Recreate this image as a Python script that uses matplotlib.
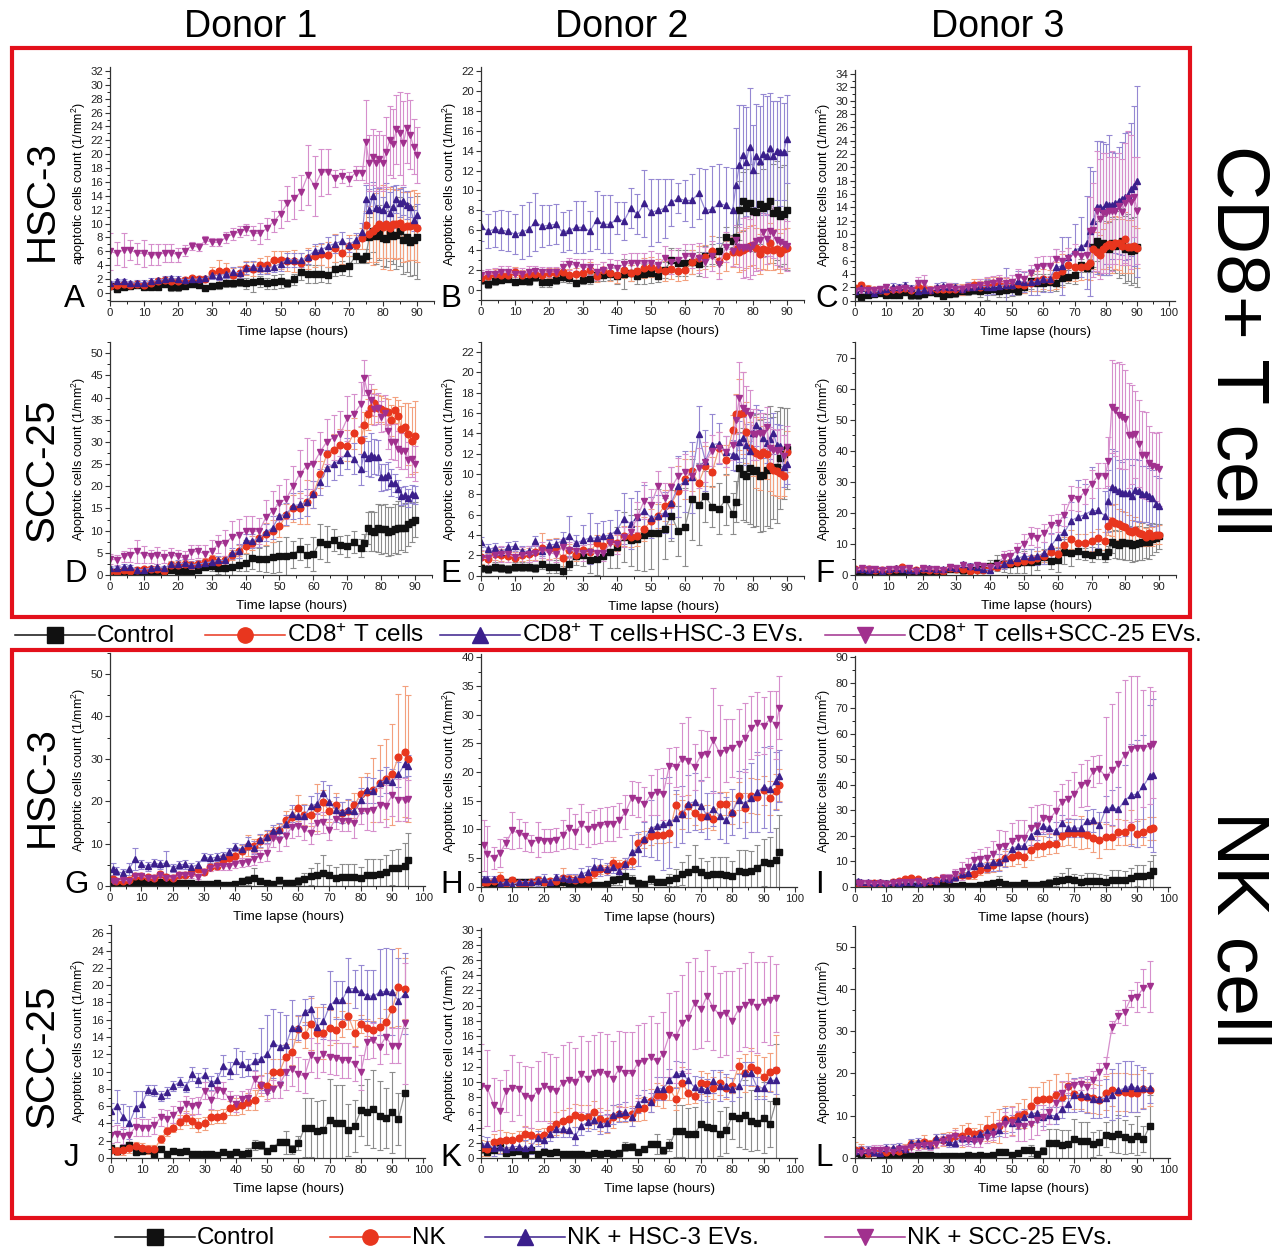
import numpy as np
import matplotlib
matplotlib.use('Agg')
import matplotlib.pyplot as plt
from matplotlib.ticker import MultipleLocator
from matplotlib.patches import Rectangle

plt.rcParams['font.family'] = ['Liberation Sans', 'DejaVu Sans']
plt.rcParams['mathtext.fontset'] = 'custom'
plt.rcParams['mathtext.rm'] = 'Liberation Sans'
plt.rcParams['mathtext.it'] = 'Liberation Sans:italic'

# ---- time points (hours) ----
T_CD8 = [0, 2, 4, 6, 8, 10, 12, 14, 16, 18,
         20, 22, 24, 26, 28, 30, 32, 34, 36, 38,
         40, 42, 44, 46, 48, 50, 52, 54, 56, 58,
         60, 62, 64, 66, 68, 70, 72, 74,
         75, 76, 77, 78, 79, 80, 81, 82, 83, 84, 85, 86, 87, 88, 89, 90]
T_NK_HSC = [1, 2, 4, 6, 8, 10, 12, 14, 16, 18,
            20, 22, 24, 26, 28, 30, 32, 34, 36, 38,
            40, 42, 44, 46, 48, 50, 52, 54, 56, 58,
            60, 62, 64, 66, 68, 70, 72, 74, 76, 78,
            80, 82, 84, 86, 88, 90, 92, 94, 95]
T_NK_SCC = [0, 2, 4, 6, 8, 10, 12, 14, 16, 18,
            20, 22, 24, 26, 28, 30, 32, 34, 36, 38,
            40, 42, 44, 46, 48, 50, 52, 54, 56, 58,
            60, 62, 64, 66, 68, 70, 72, 74, 76, 78,
            80, 82, 84, 86, 88, 90, 92, 94]

# ---- controls (tumour cells alone, shared by donors) ----
CTRL_HSC3_CD8 = [1.0, 0.6, 0.9, 1.0, 1.1, 0.8, 0.9, 0.9, 1.3, 0.8,
                 0.8, 1.0, 1.3, 1.2, 0.7, 1.0, 1.1, 1.5, 1.5, 1.6,
                 1.4, 1.6, 1.7, 1.4, 1.6, 1.7, 1.4, 2.0, 3.0, 2.7,
                 2.7, 2.8, 2.6, 3.4, 3.6, 3.9, 5.3, 4.9,
                 5.3, 8.0, 8.9, 8.2, 8.7, 7.9, 7.8, 8.6, 8.2, 8.4, 8.9, 7.7, 8.0, 7.4, 7.6, 8.0]
CTRL_HSC3_CD8_ERR = [0.4, 0.4, 0.4, 0.3, 0.3, 0.3, 0.3, 0.4, 0.4, 0.5,
                     0.5, 0.4, 0.5, 0.5, 0.3, 0.4, 0.5, 0.6, 0.6, 0.6,
                     0.8, 1.5, 0.8, 0.8, 1.0, 1.0, 0.6, 0.8, 1.2, 1.3,
                     1.3, 1.2, 1.2, 1.0, 1.0, 1.4, 1.0, 0.6,
                     1.0, 3.0, 3.0, 4.0, 4.0, 4.0, 4.0, 4.0, 4.0, 5.0, 5.0, 5.0, 5.0, 5.0, 5.0, 6.0]
CTRL_SCC25_CD8 = [0.8, 0.7, 0.9, 0.8, 0.7, 0.9, 0.9, 0.9, 0.8, 1.2,
                  0.9, 0.9, 0.5, 1.2, 1.9, 2.0, 1.5, 1.6, 1.9, 2.3,
                  2.8, 3.8, 3.5, 3.6, 4.0, 4.2, 4.2, 4.6, 5.9, 4.4,
                  4.8, 7.5, 7.0, 7.8, 6.8, 6.6, 7.5, 6.1,
                  7.3, 10.6, 10.0, 9.8, 10.6, 10.3, 10.4, 9.8, 9.9, 10.4, 10.7, 10.6, 10.7, 11.6, 12.0, 12.5]
CTRL_SCC25_CD8_ERR = [0.4, 0.4, 0.4, 0.4, 0.4, 0.4, 0.4, 0.4, 0.4, 0.5,
                      0.6, 0.6, 0.5, 0.6, 0.8, 1.0, 1.2, 1.5, 2.0, 1.5,
                      2.0, 2.5, 2.5, 3.0, 3.5, 3.5, 4.3, 3.0, 2.5, 2.5,
                      3.8, 4.0, 4.0, 2.5, 2.0, 2.5, 2.5, 2.0,
                      2.0, 3.5, 4.5, 4.5, 5.5, 5.5, 5.5, 5.5, 5.5, 5.5, 6.0, 5.0, 5.5, 5.0, 4.5, 4.0]
CTRL_HSC3_NK = [0.8, 0.5, 0.6, 0.8, 0.9, 1.0, 0.8, 0.8, 0.9, 1.0,
                0.9, 0.6, 0.6, 0.8, 0.5, 0.5, 0.4, 0.6, 0.3, 0.3,
                0.5, 1.1, 1.3, 1.9, 1.2, 0.7, 0.5, 1.3, 0.8, 0.8,
                1.2, 1.6, 2.3, 2.5, 3.1, 2.5, 2.0, 2.2, 2.2, 2.1,
                1.9, 2.7, 2.6, 2.8, 3.3, 4.3, 4.2, 4.7, 6.1]
CTRL_HSC3_NK_ERR = [0.3, 0.3, 0.3, 0.3, 0.3, 0.3, 0.3, 0.3, 0.3, 0.3,
                    0.3, 0.3, 0.3, 0.3, 0.3, 0.3, 0.3, 0.3, 0.3, 0.3,
                    0.4, 0.8, 1.0, 2.3, 0.8, 0.5, 0.5, 0.8, 0.5, 0.5,
                    1.0, 1.5, 2.0, 3.0, 4.2, 2.5, 2.5, 3.0, 3.0, 3.0,
                    2.5, 3.7, 3.8, 3.5, 4.0, 4.1, 4.5, 5.5, 6.4]
CTRL_SCC25_NK = [1.2, 0.8, 1.1, 1.5, 0.7, 0.8, 0.9, 0.5, 1.0, 0.5,
                 0.8, 0.7, 0.8, 0.5, 0.5, 0.5, 0.5, 0.4, 0.7, 0.5,
                 0.7, 0.5, 0.6, 1.5, 1.5, 0.8, 1.2, 1.9, 1.8, 1.0,
                 1.7, 3.5, 3.5, 3.1, 3.2, 4.4, 4.1, 4.0, 3.2, 3.7,
                 5.5, 5.3, 5.7, 4.9, 4.6, 5.3, 4.5, 7.5]
CTRL_SCC25_NK_ERR = [0.5, 0.3, 0.3, 0.4, 0.3, 0.3, 0.3, 0.2, 0.2, 0.2,
                     0.2, 0.2, 0.2, 0.2, 0.2, 0.2, 0.2, 0.2, 0.2, 0.2,
                     0.2, 0.2, 0.5, 0.6, 0.5, 0.3, 0.3, 0.3, 1.3, 0.5,
                     0.8, 3.4, 3.4, 3.5, 3.5, 4.8, 4.4, 4.5, 3.0, 3.0,
                     3.0, 3.8, 4.5, 4.0, 3.5, 4.7, 3.0, 7.5]

# ---- A: donor 1, HSC-3, CD8+ T cells ----
A_CD8 = [1.0, 1.1, 1.3, 1.2, 1.3, 1.2, 1.5, 1.7, 1.8, 1.7,
         1.7, 1.9, 2.1, 2.0, 2.0, 2.9, 3.2, 3.1, 2.6, 2.9,
         3.6, 3.4, 4.0, 4.1, 4.8, 4.7, 4.6, 4.6, 4.3, 5.0,
         5.3, 5.6, 5.5, 6.5, 5.7, 6.8, 6.9, 7.9,
         9.8, 8.5, 9.0, 9.4, 10.0, 9.5, 10.0, 9.3, 10.0, 9.9, 10.1, 9.5, 9.6, 9.7, 9.8, 9.4]
A_CD8_ERR = [0.3, 0.3, 0.3, 0.3, 0.3, 0.3, 0.4, 0.4, 0.4, 0.4,
             0.4, 0.4, 0.4, 0.4, 0.4, 0.8, 1.6, 1.2, 1.0, 1.0,
             1.0, 1.0, 1.0, 1.2, 1.2, 1.3, 1.5, 1.6, 1.4, 1.5,
             1.5, 1.5, 1.8, 2.0, 1.5, 1.5, 1.5, 1.5,
             2.0, 4.0, 5.0, 5.0, 5.0, 6.0, 5.0, 6.0, 5.0, 5.0, 5.0, 5.0, 5.0, 5.0, 5.0, 5.0]
A_HSC = [1.4, 1.7, 1.7, 1.4, 1.5, 1.5, 1.7, 1.8, 2.0, 2.1,
         2.0, 1.9, 2.0, 2.0, 2.1, 2.6, 2.5, 2.7, 3.0, 2.9,
         3.6, 3.8, 3.6, 3.6, 3.8, 4.2, 4.8, 4.8, 4.7, 5.2,
         6.1, 6.2, 6.8, 7.1, 7.5, 6.9, 7.6, 8.8,
         13.5, 12.0, 14.0, 12.2, 12.1, 11.9, 12.8, 11.5, 12.4, 13.5, 13.0, 13.3, 12.7, 12.4, 10.5, 11.3]
A_HSC_ERR = [0.3, 0.3, 0.3, 0.3, 0.3, 0.3, 0.4, 0.4, 0.4, 0.4,
             0.4, 0.4, 0.4, 0.4, 0.4, 0.6, 0.6, 0.6, 0.8, 0.8,
             0.8, 0.8, 0.8, 0.8, 0.8, 1.0, 1.0, 1.0, 1.0, 1.0,
             1.0, 1.0, 1.2, 1.3, 1.3, 1.0, 1.0, 1.3,
             2.0, 3.0, 2.0, 3.0, 3.0, 2.0, 3.0, 3.0, 3.0, 2.0, 2.0, 2.0, 2.0, 1.5, 1.5, 1.5]
A_SCC = [6.0, 5.7, 6.2, 6.2, 5.7, 5.7, 5.5, 5.5, 5.8, 5.8,
         5.5, 6.1, 6.8, 6.6, 7.6, 7.3, 7.3, 8.0, 8.5, 8.8,
         9.2, 8.6, 8.6, 9.3, 10.3, 11.4, 12.9, 13.7, 14.5, 17.0,
         15.4, 17.4, 17.5, 16.5, 16.9, 16.4, 17.3, 17.3,
         21.8, 18.7, 19.6, 18.7, 19.3, 18.7, 20.3, 22.0, 21.5, 23.6, 23.0, 21.6, 23.8, 22.8, 21.1, 19.9]
A_SCC_ERR = [2.7, 1.7, 2.5, 1.5, 1.5, 2.0, 1.5, 1.5, 1.3, 1.3,
             1.0, 0.8, 0.6, 0.6, 0.6, 0.6, 0.6, 0.8, 0.8, 0.8,
             0.8, 1.0, 1.5, 1.5, 1.5, 2.0, 2.5, 3.0, 2.5, 4.3,
             4.3, 3.4, 3.3, 1.2, 1.0, 1.0, 1.0, 1.0,
             6.0, 4.0, 4.0, 4.0, 4.0, 4.0, 5.0, 5.0, 5.0, 5.0, 6.0, 6.0, 5.0, 5.0, 4.0, 4.0]

# ---- B: donor 2, HSC-3, CD8+ T cells ----
B_CD8 = [1.2, 1.4, 1.6, 1.5, 1.5, 1.8, 1.5, 1.6, 1.6, 1.5,
         1.7, 1.7, 1.8, 1.5, 1.6, 1.7, 2.0, 1.4, 2.0, 1.7,
         1.5, 2.0, 1.7, 1.9, 2.2, 2.3, 2.1, 1.9, 2.1, 1.9,
         2.0, 2.8, 3.2, 3.3, 3.9, 2.9, 3.4, 3.8,
         4.1, 3.8, 4.0, 4.2, 4.4, 4.5, 4.2, 3.6, 4.1, 4.0, 4.7, 4.0, 4.1, 3.7, 4.1, 4.2]
B_CD8_ERR = [0.5, 0.5, 0.5, 0.5, 0.5, 0.5, 0.5, 0.5, 0.5, 0.5,
             0.5, 0.5, 0.6, 0.6, 0.6, 0.6, 0.8, 0.6, 0.8, 0.8,
             0.8, 0.8, 0.8, 0.8, 1.0, 1.0, 1.0, 1.0, 1.0, 1.0,
             1.0, 1.2, 1.2, 1.2, 1.5, 1.2, 1.5, 1.5,
             1.5, 2.0, 2.0, 2.0, 2.0, 2.0, 2.0, 2.0, 2.0, 2.0, 2.0, 2.0, 2.0, 2.0, 2.0, 2.0]
B_HSC = [6.4, 5.9, 6.1, 6.0, 5.9, 5.6, 5.8, 6.1, 6.8, 6.4,
         6.5, 6.6, 5.8, 6.0, 6.3, 6.3, 5.9, 7.0, 6.6, 6.6,
         7.2, 6.9, 8.2, 7.6, 8.7, 7.8, 8.0, 8.2, 8.8, 9.2,
         9.0, 9.0, 9.7, 8.0, 8.1, 8.7, 8.5, 8.0,
         10.5, 12.6, 13.6, 12.9, 14.4, 12.1, 13.5, 13.0, 13.7, 13.5, 14.3, 13.5, 14.0, 13.9, 13.9, 15.2]
B_HSC_ERR = [1.5, 1.7, 1.8, 2.0, 2.0, 2.0, 2.7, 2.7, 2.9, 2.1,
             2.0, 2.0, 2.0, 2.0, 2.6, 2.6, 2.0, 2.9, 2.9, 2.9,
             1.6, 1.9, 2.0, 2.0, 3.4, 3.4, 3.2, 3.0, 2.4, 1.5,
             2.1, 2.7, 2.6, 4.2, 4.4, 4.0, 3.9, 4.3,
             5.8, 6.0, 5.0, 5.5, 5.9, 4.5, 5.2, 5.5, 6.0, 6.0, 5.5, 5.5, 5.0, 5.5, 4.9, 4.4]
B_SCC = [1.5, 1.6, 1.6, 1.8, 1.8, 1.6, 1.6, 1.8, 1.9, 1.8,
         1.8, 1.8, 2.3, 2.6, 2.5, 2.3, 2.3, 1.8, 2.0, 2.3,
         2.2, 2.6, 2.7, 2.7, 2.7, 2.7, 2.5, 3.2, 2.8, 3.0,
         3.4, 3.4, 3.2, 2.8, 3.4, 2.6, 4.3, 3.9,
         5.0, 4.3, 4.2, 4.3, 4.1, 4.5, 4.9, 5.0, 5.8, 5.1, 5.9, 5.7, 5.0, 4.8, 4.6, 4.4]
B_SCC_ERR = [0.5, 0.5, 0.6, 0.6, 0.6, 0.6, 0.6, 0.6, 0.5, 0.5,
             0.5, 0.5, 0.6, 0.6, 0.6, 0.8, 0.8, 0.8, 0.8, 0.8,
             0.8, 1.0, 1.0, 1.0, 1.0, 1.2, 1.2, 1.2, 1.2, 1.2,
             1.2, 1.2, 1.5, 1.5, 1.5, 1.5, 1.5, 1.5,
             1.5, 2.0, 3.0, 3.0, 3.0, 3.0, 3.0, 3.0, 2.5, 2.5, 2.5, 2.5, 2.5, 2.5, 2.5, 2.5]

# ---- C: donor 3, HSC-3, CD8+ T cells ----
C_CD8 = [1.9, 2.3, 1.8, 1.6, 1.6, 1.5, 1.7, 1.8, 1.9, 1.6,
         2.0, 1.7, 1.6, 1.7, 1.8, 1.8, 1.7, 1.7, 2.0, 2.4,
         2.0, 2.4, 2.6, 2.6, 2.4, 2.3, 2.5, 2.4, 2.6, 3.0,
         3.2, 3.1, 3.8, 4.5, 5.4, 5.0, 5.1, 5.2,
         5.6, 7.7, 7.3, 6.9, 7.8, 8.2, 8.5, 8.2, 8.7, 8.6, 8.2, 9.3, 8.1, 8.1, 8.2, 7.9]
C_CD8_ERR = [0.5, 0.5, 0.5, 0.5, 0.5, 0.5, 0.5, 0.5, 0.5, 0.5,
             0.6, 0.6, 0.6, 0.6, 0.6, 0.8, 0.8, 0.8, 0.8, 0.8,
             1.0, 1.0, 1.0, 1.0, 1.0, 1.0, 1.2, 1.2, 1.2, 1.5,
             1.5, 1.5, 2.0, 2.5, 2.5, 2.0, 2.0, 2.0,
             2.5, 3.0, 3.0, 3.0, 3.0, 3.5, 3.5, 4.0, 4.0, 4.0, 4.0, 4.0, 4.0, 4.0, 3.0, 3.0]
C_HSC = [1.5, 1.9, 1.6, 1.2, 1.6, 1.7, 2.1, 2.0, 2.3, 1.9,
         1.5, 1.6, 1.6, 2.0, 2.2, 2.0, 2.0, 1.8, 2.0, 2.0,
         2.2, 2.1, 2.0, 2.2, 2.4, 2.4, 2.9, 2.8, 2.8, 2.9,
         3.3, 3.3, 5.0, 5.2, 6.6, 7.5, 8.0, 8.7,
         10.4, 12.0, 14.0, 14.0, 13.8, 14.5, 14.3, 14.3, 14.6, 15.0, 15.3, 15.6, 15.8, 16.7, 17.2, 17.9]
C_HSC_ERR = [0.5, 0.5, 0.5, 0.5, 0.5, 0.7, 0.5, 0.5, 0.5, 0.5,
             0.5, 0.5, 0.5, 0.6, 0.6, 0.6, 0.6, 0.6, 0.8, 0.8,
             1.0, 1.2, 1.0, 1.2, 2.5, 1.5, 1.5, 1.5, 2.0, 2.0,
             2.0, 2.0, 2.8, 4.3, 3.0, 4.0, 4.5, 7.0,
             9.7, 7.5, 10.0, 10.0, 10.0, 9.0, 10.5, 8.0, 7.5, 8.0, 8.5, 9.5, 9.5, 10.0, 12.0, 14.3]
C_SCC = [1.4, 1.6, 1.6, 1.6, 1.7, 2.0, 1.6, 1.8, 1.9, 1.6,
         2.7, 2.7, 1.6, 1.8, 1.9, 2.0, 1.7, 1.8, 2.1, 2.0,
         2.4, 2.5, 2.7, 2.9, 2.6, 2.8, 3.6, 3.2, 4.2, 5.0,
         5.2, 5.2, 6.2, 5.9, 6.4, 7.0, 6.7, 6.8,
         10.5, 10.6, 13.5, 12.3, 13.1, 13.1, 13.5, 13.5, 13.5, 14.2, 13.3, 14.6, 15.4, 14.8, 15.5, 13.5]
C_SCC_ERR = [0.5, 0.5, 0.5, 0.5, 0.5, 0.5, 0.5, 0.5, 0.5, 0.5,
             0.8, 1.1, 0.5, 0.5, 0.5, 0.6, 0.6, 0.6, 0.6, 0.6,
             0.8, 1.0, 1.0, 1.0, 1.0, 1.0, 1.2, 1.2, 1.2, 1.5,
             1.5, 1.5, 1.5, 1.5, 1.5, 1.5, 1.5, 1.5,
             5.0, 7.0, 9.0, 9.0, 9.0, 9.0, 8.0, 9.0, 8.0, 8.0, 8.0, 9.0, 10.0, 10.0, 6.0, 8.0]

# ---- D: donor 1, SCC-25, CD8+ T cells ----
D_CD8 = [0.8, 0.6, 1.1, 1.0, 1.2, 1.3, 1.4, 1.3, 1.0, 2.3,
         2.3, 2.5, 2.2, 2.5, 3.0, 3.5, 3.0, 3.3, 4.5, 5.5,
         6.5, 7.2, 8.4, 9.3, 9.9, 11.0, 13.5, 15.0, 15.1, 16.5,
         18.2, 22.7, 27.3, 28.3, 29.4, 29.2, 32.0, 30.4,
         33.8, 36.2, 37.6, 38.9, 37.6, 37.4, 37.0, 36.8, 34.9, 37.2, 35.9, 33.0, 33.4, 31.8, 30.3, 31.3]
D_CD8_ERR = [0.5, 0.5, 0.5, 0.5, 0.6, 0.6, 0.6, 0.6, 0.6, 0.8,
             0.8, 0.8, 0.8, 0.8, 0.8, 1.0, 1.0, 1.0, 1.2, 1.2,
             1.5, 1.5, 2.0, 2.5, 2.5, 2.5, 2.5, 3.0, 3.5, 5.0,
             3.0, 3.0, 3.0, 3.5, 3.5, 3.5, 3.5, 3.0,
             3.0, 3.5, 3.5, 3.0, 3.0, 3.0, 3.0, 3.0, 3.5, 3.0, 3.5, 5.0, 5.5, 7.0, 7.5, 8.0]
D_HSC = [1.5, 1.5, 1.9, 1.8, 1.2, 1.2, 1.6, 1.8, 1.5, 2.4,
         2.5, 2.7, 2.3, 2.5, 2.7, 3.0, 3.3, 3.3, 4.9, 5.4,
         7.8, 7.7, 8.3, 9.6, 10.7, 13.4, 13.7, 15.6, 15.9, 16.4,
         18.2, 21.0, 24.1, 25.0, 26.0, 27.5, 26.2, 23.9,
         27.4, 26.3, 27.0, 26.7, 26.5, 22.0, 22.1, 22.5, 20.8, 20.7, 19.5, 17.8, 18.1, 17.3, 18.2, 18.0]
D_HSC_ERR = [0.5, 0.5, 0.5, 0.5, 0.5, 0.5, 0.5, 0.6, 0.6, 0.6,
             0.8, 0.8, 0.8, 0.8, 0.8, 1.0, 1.0, 1.0, 1.2, 1.5,
             1.5, 1.5, 2.0, 2.0, 2.5, 2.5, 2.5, 3.0, 3.0, 3.0,
             3.0, 3.0, 4.0, 3.5, 3.5, 3.5, 3.5, 3.5,
             4.0, 4.0, 5.0, 4.0, 4.0, 3.0, 3.0, 3.0, 3.0, 2.0, 2.0, 2.0, 2.0, 2.0, 2.0, 2.0]
D_SCC = [3.6, 3.4, 4.2, 4.5, 5.3, 4.6, 4.2, 4.4, 4.1, 4.5,
         4.2, 3.8, 5.2, 5.3, 4.8, 5.4, 7.0, 7.2, 8.6, 9.1,
         9.9, 9.9, 9.9, 13.0, 14.5, 16.3, 17.2, 20.0, 22.8, 24.5,
         25.0, 27.8, 30.1, 31.0, 31.9, 35.3, 36.4, 38.5,
         44.5, 41.1, 39.5, 37.4, 37.6, 35.7, 36.5, 32.5, 30.1, 30.0, 28.4, 28.0, 28.0, 26.0, 26.1, 25.1]
D_SCC_ERR = [1.2, 1.2, 1.2, 1.5, 2.5, 2.0, 1.5, 2.0, 1.5, 1.5,
             1.5, 1.5, 1.5, 1.5, 2.0, 2.5, 2.0, 3.0, 3.5, 3.5,
             3.5, 3.5, 3.0, 4.0, 4.5, 4.0, 4.5, 4.5, 5.5, 6.5,
             5.5, 4.5, 5.0, 5.0, 5.0, 5.0, 4.5, 5.0,
             4.0, 4.0, 3.5, 3.5, 3.5, 3.5, 4.0, 4.0, 4.0, 4.0, 4.0, 4.0, 4.0, 4.0, 4.0, 4.0]

# ---- E: donor 2, SCC-25, CD8+ T cells ----
E_CD8 = [1.8, 1.6, 2.1, 2.0, 1.9, 1.7, 2.0, 2.1, 2.3, 2.7,
         2.6, 2.7, 1.7, 2.5, 2.0, 2.5, 2.3, 3.2, 2.9, 3.4,
         3.2, 3.9, 3.8, 3.9, 4.6, 5.4, 5.9, 6.9, 7.1, 8.3,
         9.5, 10.3, 9.1, 10.8, 10.2, 12.6, 11.4, 14.3,
         15.9, 15.9, 16.0, 14.1, 12.6, 12.3, 12.1, 11.9, 12.2, 12.0, 10.8, 10.4, 10.3, 10.1, 9.8, 12.2]
E_CD8_ERR = [0.6, 0.6, 0.6, 0.6, 0.6, 0.6, 0.6, 0.6, 0.8, 1.5,
             1.0, 1.0, 1.0, 0.6, 0.6, 0.8, 0.8, 0.8, 0.8, 0.8,
             0.8, 1.0, 1.0, 1.0, 1.2, 1.2, 1.2, 1.5, 2.0, 2.5,
             2.0, 2.0, 2.0, 2.0, 1.5, 1.5, 1.5, 1.5,
             2.0, 3.5, 4.0, 3.0, 2.5, 2.5, 3.5, 3.5, 2.5, 2.5, 2.5, 2.5, 2.5, 2.5, 2.0, 2.0]
E_HSC = [3.3, 2.6, 2.7, 2.3, 2.8, 2.9, 2.4, 2.4, 3.4, 2.4,
         3.0, 3.1, 3.5, 3.9, 3.2, 3.5, 3.7, 3.7, 3.9, 4.0,
         4.5, 5.6, 5.1, 5.8, 6.4, 5.7, 5.9, 6.2, 7.2, 8.8,
         9.3, 9.7, 13.9, 11.3, 12.9, 13.0, 12.2, 11.9,
         11.8, 13.2, 13.6, 12.9, 12.3, 14.0, 14.8, 14.3, 13.6, 13.1, 13.5, 14.0, 12.9, 12.8, 10.7, 11.0]
E_HSC_ERR = [0.5, 0.5, 0.5, 0.5, 0.5, 0.5, 0.5, 0.5, 0.5, 0.5,
             0.5, 0.5, 0.8, 2.0, 0.8, 1.5, 2.5, 1.5, 1.5, 1.5,
             2.0, 2.5, 2.5, 2.5, 2.5, 2.0, 2.0, 2.0, 3.5, 3.0,
             3.0, 3.5, 2.8, 3.0, 3.0, 2.0, 1.5, 1.5,
             1.5, 2.0, 2.0, 2.0, 2.0, 2.0, 2.0, 2.0, 2.0, 2.0, 2.0, 2.0, 2.0, 2.0, 2.0, 2.0]
E_SCC = [1.7, 1.7, 2.0, 2.1, 2.1, 1.8, 2.0, 2.1, 2.2, 2.5,
         2.3, 2.1, 2.8, 2.5, 2.4, 2.2, 2.3, 2.2, 2.2, 3.2,
         3.1, 3.8, 4.3, 5.8, 7.4, 7.0, 8.8, 7.6, 8.7, 9.8,
         10.2, 9.8, 10.6, 11.2, 12.3, 12.6, 12.2, 12.9,
         15.3, 17.5, 16.5, 16.2, 15.8, 13.9, 13.9, 14.0, 14.0, 14.6, 12.6, 12.4, 12.3, 12.4, 11.8, 12.7]
E_SCC_ERR = [0.8, 0.8, 0.8, 0.8, 0.8, 0.8, 0.8, 0.8, 0.8, 0.8,
             0.8, 0.8, 0.8, 0.8, 0.8, 0.8, 0.8, 0.8, 0.8, 0.8,
             1.0, 1.0, 1.0, 1.5, 1.8, 1.5, 1.5, 1.5, 2.0, 1.8,
             1.8, 2.0, 2.0, 2.0, 1.5, 1.5, 1.5, 1.5,
             2.5, 3.5, 3.5, 2.5, 2.5, 2.5, 2.5, 2.0, 2.0, 2.0, 2.0, 2.0, 2.0, 2.0, 2.0, 2.0]

# ---- F: donor 3, SCC-25, CD8+ T cells ----
F_CD8 = [1.8, 1.9, 1.9, 1.7, 1.6, 1.7, 1.8, 2.6, 1.6, 1.5,
         1.8, 1.6, 1.5, 1.2, 2.2, 2.0, 2.0, 1.3, 1.7, 1.6,
         2.5, 2.6, 3.6, 3.9, 4.1, 4.6, 4.9, 5.6, 6.2, 7.3,
         6.9, 9.8, 11.5, 10.2, 10.2, 10.8, 11.8, 10.9,
         15.8, 17.5, 16.9, 16.3, 15.7, 15.4, 14.3, 13.8, 14.6, 13.4, 13.2, 12.2, 13.4, 12.5, 12.9, 13.0]
F_CD8_ERR = [0.5, 0.5, 0.5, 0.5, 0.5, 0.5, 0.5, 0.6, 0.5, 0.5,
             0.5, 0.5, 0.5, 0.5, 0.5, 0.6, 0.6, 0.6, 0.6, 0.6,
             0.8, 1.0, 1.0, 1.2, 1.2, 1.5, 1.5, 2.0, 2.0, 2.0,
             2.0, 2.5, 3.0, 3.0, 3.0, 3.0, 3.0, 3.0,
             3.0, 5.0, 6.0, 5.0, 5.0, 5.0, 5.0, 4.0, 4.0, 4.0, 4.0, 3.0, 3.0, 3.0, 3.0, 3.0]
F_HSC = [2.0, 1.8, 1.5, 1.8, 1.4, 1.9, 2.4, 1.9, 1.6, 1.6,
         2.3, 2.3, 2.0, 1.8, 2.6, 2.3, 3.4, 3.0, 2.6, 1.8,
         1.7, 3.3, 3.4, 4.8, 5.4, 6.0, 5.9, 6.1, 7.1, 9.4,
         12.2, 13.8, 17.5, 18.7, 19.4, 20.7, 20.8, 19.0,
         23.9, 28.5, 27.8, 27.1, 26.4, 26.4, 26.3, 25.4, 27.4, 27.0, 26.2, 26.1, 25.5, 24.9, 23.0, 22.3]
F_HSC_ERR = [0.5, 0.5, 0.5, 0.5, 0.5, 0.5, 0.5, 0.5, 0.5, 0.5,
             0.5, 0.5, 0.5, 0.5, 0.8, 0.8, 0.8, 0.8, 0.8, 0.8,
             1.0, 1.5, 1.5, 2.0, 2.0, 2.5, 2.5, 3.0, 3.5, 4.0,
             4.0, 5.0, 6.0, 12.0, 10.0, 14.0, 12.0, 8.0,
             10.0, 12.0, 12.0, 10.0, 10.0, 11.0, 11.0, 10.0, 10.0, 10.0, 9.0, 9.0, 9.0, 9.0, 9.0, 9.0]
F_SCC = [1.5, 2.1, 1.8, 1.8, 1.6, 1.8, 1.9, 2.0, 2.2, 1.4,
         2.1, 1.8, 2.0, 1.7, 2.7, 2.2, 3.1, 2.5, 3.2, 3.0,
         2.6, 3.3, 5.8, 6.2, 7.9, 10.1, 12.6, 12.0, 13.5, 16.2,
         16.8, 19.3, 24.8, 24.5, 26.8, 29.4, 32.0, 32.0,
         36.6, 54.2, 53.2, 51.5, 51.0, 50.2, 45.0, 45.2, 45.3, 42.3, 38.8, 38.5, 36.0, 35.0, 34.8, 34.2]
F_SCC_ERR = [0.5, 0.5, 0.5, 0.5, 0.5, 0.5, 0.5, 0.5, 0.5, 0.5,
             0.5, 0.5, 0.5, 0.5, 0.8, 0.8, 0.8, 0.8, 0.8, 0.8,
             1.0, 1.5, 2.0, 2.0, 2.5, 3.0, 3.0, 3.0, 3.0, 3.0,
             3.0, 3.5, 4.0, 4.0, 4.0, 4.5, 4.0, 4.0,
             8.0, 15.0, 15.0, 17.0, 17.0, 16.0, 17.0, 16.0, 14.0, 14.0, 14.0, 14.0, 12.0, 11.0, 11.0, 12.0]

# ---- G: donor 1, HSC-3, NK ----
G_NK = [1.6, 1.2, 1.2, 1.5, 2.4, 2.3, 2.2, 2.0, 2.8, 2.2,
        2.0, 2.5, 2.7, 3.0, 4.0, 3.3, 4.4, 4.8, 6.2, 6.5,
        7.0, 8.2, 9.5, 9.5, 10.5, 11.5, 12.5, 13.1, 15.6, 16.2,
        18.4, 16.8, 16.7, 18.5, 19.7, 17.6, 19.0, 17.3, 17.7, 19.0,
        21.8, 22.2, 22.7, 24.2, 25.2, 26.3, 30.4, 31.7, 30.0]
G_NK_ERR = [0.5, 0.5, 0.5, 0.5, 0.5, 0.5, 0.5, 0.5, 0.5, 0.5,
            0.5, 0.5, 0.5, 0.5, 0.5, 0.5, 0.8, 0.8, 1.0, 1.0,
            1.2, 1.5, 2.5, 1.5, 1.5, 1.5, 1.5, 1.5, 2.0, 2.0,
            3.0, 2.5, 2.5, 5.5, 3.0, 2.5, 3.0, 2.5, 2.5, 3.0,
            4.0, 4.5, 7.5, 9.0, 9.5, 12.0, 15.0, 15.5, 15.0]
G_HSC = [4.0, 3.5, 3.0, 4.0, 6.3, 5.1, 4.6, 5.4, 5.1, 5.5,
         4.3, 5.0, 5.1, 4.5, 5.0, 6.8, 6.5, 6.8, 7.1, 8.0,
         9.2, 8.7, 10.1, 9.0, 10.8, 11.6, 13.0, 13.3, 14.7, 17.0,
         16.5, 16.5, 18.8, 19.4, 22.0, 19.9, 18.0, 17.4, 18.0, 17.6,
         20.2, 22.6, 22.5, 24.3, 25.0, 24.6, 26.3, 28.8, 28.4]
G_HSC_ERR = [1.5, 1.0, 1.0, 1.5, 2.6, 1.0, 1.0, 1.0, 1.0, 2.7,
             1.0, 1.0, 1.0, 1.0, 1.0, 1.0, 1.0, 1.0, 1.0, 1.0,
             1.0, 1.2, 1.5, 1.5, 1.5, 1.5, 1.5, 1.5, 2.0, 2.0,
             2.0, 2.5, 2.5, 2.5, 2.8, 4.0, 3.0, 2.5, 2.5, 2.5,
             3.0, 3.0, 3.0, 3.0, 3.0, 3.0, 3.0, 3.0, 2.5]
G_SCC = [1.2, 1.2, 1.4, 1.2, 2.3, 2.3, 2.0, 1.8, 2.7, 2.0,
         1.8, 2.5, 2.6, 2.5, 2.2, 3.3, 4.3, 4.6, 4.6, 4.6,
         5.2, 5.5, 5.7, 6.4, 7.1, 7.8, 11.3, 10.8, 11.9, 13.8,
         14.2, 13.4, 12.4, 14.8, 15.0, 13.3, 15.9, 15.4, 15.4, 14.8,
         17.6, 17.8, 18.0, 19.2, 18.8, 21.4, 20.3, 20.4, 20.6]
G_SCC_ERR = [0.5, 0.5, 0.5, 0.5, 0.5, 0.5, 0.5, 0.5, 0.5, 0.5,
             0.5, 0.5, 0.5, 0.5, 0.5, 0.8, 0.8, 0.8, 0.8, 0.8,
             1.0, 1.0, 1.0, 1.5, 1.5, 2.0, 2.0, 2.5, 2.5, 2.5,
             2.5, 2.5, 2.5, 2.5, 2.5, 2.5, 2.5, 2.5, 2.5, 3.5,
             3.0, 4.5, 5.0, 4.0, 5.0, 5.0, 5.0, 5.0, 4.5]

# ---- H: donor 2, HSC-3, NK ----
H_NK = [0.8, 0.8, 1.0, 1.6, 0.7, 1.2, 0.7, 0.5, 0.8, 1.2,
        0.8, 1.0, 1.0, 1.5, 1.3, 1.2, 1.3, 1.3, 2.4, 3.0,
        2.9, 4.2, 3.6, 4.0, 4.5, 7.7, 8.2, 8.8, 9.1, 9.1,
        9.3, 14.2, 12.6, 14.0, 12.8, 12.1, 12.3, 11.8, 14.5, 14.5,
        12.9, 15.8, 13.8, 15.9, 15.7, 16.8, 15.5, 16.6, 17.7]
H_NK_ERR = [0.5, 0.5, 0.5, 1.0, 0.5, 0.5, 0.5, 0.5, 0.5, 0.5,
            0.5, 0.5, 0.5, 1.8, 0.8, 0.8, 0.8, 0.8, 0.8, 0.8,
            0.8, 1.0, 1.0, 1.0, 1.0, 1.5, 1.5, 1.5, 1.5, 1.5,
            1.5, 2.0, 2.5, 2.0, 2.0, 2.0, 2.0, 2.0, 2.0, 2.0,
            2.0, 2.5, 2.5, 3.0, 3.0, 2.5, 3.0, 3.0, 2.8]
H_HSC = [1.3, 1.4, 1.3, 0.5, 0.9, 0.3, 0.9, 0.9, 0.9, 1.0,
         1.4, 0.9, 1.7, 1.6, 1.4, 1.4, 2.2, 2.6, 3.5, 3.4,
         3.1, 3.4, 2.8, 4.0, 6.0, 6.6, 8.3, 10.1, 10.6, 10.9,
         11.2, 11.9, 12.6, 14.5, 14.8, 14.1, 12.4, 13.6, 12.4, 11.6,
         13.0, 15.2, 14.5, 15.5, 16.5, 17.3, 17.1, 18.4, 19.3]
H_HSC_ERR = [0.5, 0.5, 0.5, 0.5, 0.5, 0.5, 0.5, 0.5, 0.5, 0.8,
             0.8, 0.5, 0.5, 0.5, 0.8, 0.8, 1.0, 1.0, 1.5, 1.5,
             1.0, 1.0, 1.0, 1.0, 3.0, 3.0, 3.0, 5.0, 6.0, 8.0,
             8.0, 5.0, 5.0, 5.0, 5.0, 4.5, 4.0, 3.0, 4.0, 4.0,
             4.0, 5.0, 6.0, 6.0, 7.0, 7.0, 7.5, 5.0, 4.5]
H_SCC = [7.2, 5.7, 5.0, 5.9, 7.7, 9.8, 9.3, 8.8, 7.6, 8.2,
         8.0, 8.0, 8.2, 9.1, 10.3, 9.6, 10.9, 10.0, 10.4, 10.7,
         10.9, 11.0, 11.6, 13.0, 15.5, 15.2, 14.4, 16.0, 16.5, 16.2,
         21.1, 20.9, 22.2, 22.0, 20.8, 22.9, 23.1, 25.5, 23.3, 23.8,
         24.2, 24.9, 26.0, 27.7, 28.5, 28.1, 29.2, 28.2, 31.2]
H_SCC_ERR = [4.5, 4.8, 2.0, 2.5, 1.0, 3.3, 2.5, 2.5, 1.5, 3.0,
             2.0, 2.0, 2.0, 2.5, 3.5, 3.0, 3.5, 3.0, 3.0, 3.0,
             3.0, 3.0, 3.0, 3.0, 3.0, 3.0, 3.0, 3.5, 4.0, 4.5,
             3.0, 3.5, 6.3, 7.5, 4.0, 4.5, 4.0, 9.1, 8.3, 5.5,
             5.0, 6.0, 6.0, 5.5, 5.5, 5.0, 5.0, 6.0, 5.5]

# ---- I: donor 3, HSC-3, NK ----
I_NK = [1.3, 1.2, 1.2, 1.3, 1.5, 1.2, 1.8, 2.4, 3.1, 3.3,
        3.0, 1.8, 2.4, 2.8, 3.6, 3.2, 3.7, 4.5, 4.4, 5.0,
        6.6, 7.5, 8.4, 9.7, 11.2, 11.7, 12.6, 11.8, 14.5, 15.8,
        16.0, 16.8, 16.8, 19.8, 20.9, 21.2, 21.1, 20.2, 19.0, 18.3,
        19.6, 19.4, 21.5, 21.3, 23.4, 20.7, 21.5, 22.8, 23.0]
I_NK_ERR = [0.5, 0.5, 0.5, 0.5, 0.5, 0.5, 0.5, 0.5, 0.5, 0.5,
            0.5, 0.5, 0.5, 0.5, 0.8, 0.8, 1.0, 1.0, 1.5, 2.0,
            2.0, 2.0, 2.5, 3.0, 3.0, 3.5, 3.5, 4.0, 4.0, 4.0,
            4.0, 4.0, 3.5, 4.0, 4.5, 5.5, 6.5, 5.0, 5.5, 7.0,
            5.0, 4.5, 5.0, 5.0, 6.5, 5.0, 5.0, 4.5, 4.5]
I_HSC = [2.2, 1.8, 1.7, 1.5, 1.8, 1.5, 1.9, 1.3, 1.8, 1.9,
         1.4, 1.8, 2.6, 2.2, 3.3, 3.0, 3.9, 5.0, 5.5, 8.3,
         9.2, 8.7, 9.6, 9.5, 11.3, 14.6, 16.0, 16.0, 20.0, 21.9,
         24.0, 22.9, 21.7, 24.8, 23.0, 23.0, 23.0, 25.9, 26.0, 24.2,
         30.4, 31.1, 30.3, 33.8, 35.8, 36.4, 39.4, 43.4, 43.8]
I_HSC_ERR = [1.0, 1.0, 1.0, 1.0, 1.0, 1.0, 1.0, 1.0, 1.0, 1.0,
             1.0, 1.0, 1.0, 1.0, 1.0, 1.0, 1.5, 1.5, 2.0, 3.0,
             3.0, 3.0, 3.5, 3.5, 3.5, 3.5, 3.5, 3.5, 3.5, 3.5,
             3.5, 3.5, 3.5, 3.5, 3.5, 3.5, 3.5, 4.0, 4.5, 5.0,
             5.0, 7.0, 9.0, 14.0, 20.0, 21.0, 20.0, 28.0, 30.0]
I_SCC = [1.5, 1.5, 1.3, 1.2, 1.4, 1.0, 1.5, 1.8, 2.0, 1.8,
         2.3, 1.5, 2.3, 2.3, 3.5, 3.3, 4.8, 6.1, 7.7, 10.3,
         10.8, 11.1, 12.8, 15.6, 15.9, 17.8, 19.3, 19.3, 23.2, 24.0,
         26.8, 26.4, 29.5, 33.3, 34.3, 36.5, 39.7, 40.7, 45.2, 46.1,
         43.1, 45.8, 48.0, 51.5, 54.0, 54.5, 54.3, 55.3, 55.8]
I_SCC_ERR = [1.0, 1.0, 1.0, 1.0, 1.0, 1.0, 1.0, 1.0, 1.0, 1.0,
             1.0, 1.0, 1.0, 1.0, 1.5, 1.5, 2.0, 3.5, 3.5, 3.5,
             4.0, 4.5, 5.0, 6.5, 6.0, 7.0, 7.0, 7.0, 8.0, 8.0,
             5.5, 5.5, 8.0, 7.0, 7.5, 8.5, 8.5, 9.0, 6.0, 5.5,
             23.5, 26.0, 28.5, 29.5, 28.5, 28.0, 23.0, 23.0, 21.0]

# ---- J: donor 1, SCC-25, NK ----
J_NK = [0.9, 0.8, 0.9, 1.1, 1.4, 1.2, 1.0, 1.0, 2.2, 3.1,
        3.5, 4.2, 4.6, 4.3, 3.8, 4.0, 4.7, 4.8, 4.9, 5.8,
        6.0, 6.1, 6.5, 6.7, 8.4, 8.3, 10.0, 10.0, 11.7, 12.3,
        14.9, 14.2, 15.5, 14.5, 14.5, 15.1, 14.8, 15.5, 16.4, 14.5,
        15.5, 15.1, 14.8, 15.2, 15.7, 17.2, 19.8, 19.6]
J_NK_ERR = [0.3, 0.5, 0.5, 0.5, 0.5, 0.5, 0.5, 0.5, 0.5, 0.5,
            0.5, 0.8, 0.8, 0.8, 0.8, 0.8, 0.8, 0.8, 0.8, 0.8,
            1.0, 1.0, 1.0, 1.2, 1.2, 1.5, 1.5, 1.5, 1.5, 1.5,
            1.5, 1.5, 3.0, 3.0, 3.0, 2.0, 1.5, 1.5, 1.5, 1.5,
            1.0, 1.0, 1.0, 1.0, 1.5, 2.0, 4.5, 3.5]
J_HSC = [5.4, 6.0, 4.8, 4.1, 5.8, 6.3, 7.9, 7.8, 7.2, 7.6,
         8.3, 8.8, 8.2, 9.7, 9.0, 9.6, 8.7, 9.0, 10.7, 10.1,
         11.2, 10.9, 10.5, 11.2, 11.5, 12.0, 13.3, 12.9, 13.1, 15.1,
         15.1, 16.9, 17.3, 15.2, 15.8, 17.6, 18.3, 18.3, 19.6, 19.6,
         19.2, 18.8, 18.7, 19.2, 19.3, 19.2, 18.2, 19.0]
J_HSC_ERR = [1.0, 1.9, 1.5, 1.9, 2.0, 1.5, 0.6, 0.6, 0.6, 0.6,
             0.6, 0.6, 0.6, 0.8, 0.8, 0.8, 0.8, 0.8, 1.2, 1.0,
             1.5, 1.5, 1.0, 1.0, 3.6, 4.5, 4.0, 4.0, 3.5, 3.2,
             1.5, 1.5, 1.5, 1.0, 2.0, 4.0, 2.2, 2.2, 3.6, 2.2,
             3.1, 2.9, 3.0, 5.0, 5.0, 5.0, 5.0, 4.7]
J_SCC = [2.7, 2.8, 2.6, 2.7, 3.6, 3.5, 3.5, 3.8, 4.7, 4.5,
         5.0, 5.6, 6.2, 6.0, 6.1, 7.8, 6.7, 7.9, 7.8, 6.8,
         6.3, 6.8, 7.0, 9.1, 8.5, 7.6, 8.0, 8.5, 9.9, 10.3,
         9.7, 9.5, 11.9, 11.3, 12.0, 11.7, 11.6, 11.3, 11.3, 10.9,
         9.9, 13.4, 13.6, 12.9, 14.0, 13.0, 13.0, 15.6]
J_SCC_ERR = [1.0, 1.0, 1.0, 1.0, 1.0, 1.0, 1.0, 1.0, 1.0, 1.0,
             1.0, 1.0, 1.0, 1.0, 1.0, 1.0, 1.0, 1.0, 1.0, 1.0,
             1.0, 1.0, 1.0, 1.0, 1.0, 1.0, 1.0, 1.5, 2.0, 2.0,
             2.0, 2.0, 2.0, 2.0, 2.0, 2.0, 2.0, 2.0, 2.0, 2.0,
             2.0, 2.0, 2.0, 2.0, 2.0, 2.0, 2.0, 7.0]

# ---- K: donor 2, SCC-25, NK ----
K_NK = [1.3, 1.2, 2.1, 2.2, 2.4, 2.3, 2.6, 3.2, 3.0, 2.8,
        3.0, 3.8, 4.5, 4.8, 5.1, 5.6, 5.4, 5.4, 6.0, 5.1,
        4.8, 5.4, 5.8, 5.7, 5.8, 6.4, 6.5, 7.5, 8.3, 8.1,
        9.1, 7.8, 9.9, 8.6, 8.2, 9.9, 9.7, 9.2, 9.8, 9.2,
        9.5, 12.1, 11.2, 12.0, 11.5, 10.7, 11.3, 11.6]
K_NK_ERR = [1.0, 1.0, 1.0, 1.5, 1.0, 1.0, 1.0, 1.0, 1.0, 1.0,
            1.0, 1.0, 1.5, 1.5, 1.5, 1.5, 1.5, 1.5, 1.5, 1.5,
            1.5, 1.5, 1.0, 1.0, 1.0, 1.5, 1.5, 1.5, 1.5, 1.5,
            1.5, 1.5, 2.0, 1.5, 1.0, 1.5, 1.5, 1.5, 1.5, 1.5,
            1.0, 1.0, 2.5, 2.5, 2.0, 2.5, 2.5, 4.5]
K_HSC = [1.9, 1.8, 1.3, 1.5, 1.2, 1.5, 1.5, 1.3, 1.5, 2.6,
         2.3, 3.2, 3.8, 3.8, 3.7, 2.9, 4.2, 4.7, 5.0, 4.4,
         4.6, 5.7, 5.9, 6.1, 5.4, 7.1, 7.7, 7.3, 9.1, 9.1,
         10.2, 11.0, 11.1, 10.2, 9.3, 9.1, 8.9, 10.1, 9.5, 9.5,
         9.0, 9.5, 11.1, 11.1, 9.2, 9.2, 10.2, 10.2]
K_HSC_ERR = [1.0, 1.0, 1.0, 1.0, 1.0, 1.0, 1.0, 1.0, 1.0, 1.0,
             1.0, 1.0, 1.0, 1.0, 1.0, 1.2, 1.2, 1.2, 1.2, 1.2,
             1.2, 1.2, 1.2, 1.2, 1.2, 1.2, 1.2, 1.2, 1.5, 1.5,
             1.5, 1.8, 1.5, 1.5, 1.5, 1.5, 1.5, 1.5, 2.0, 1.5,
             1.5, 1.5, 1.5, 1.5, 1.5, 1.5, 1.5, 1.8]
K_SCC = [9.5, 9.2, 7.0, 6.2, 8.8, 9.2, 9.1, 8.1, 7.9, 8.8,
         9.4, 9.1, 8.8, 9.9, 10.2, 10.0, 11.0, 10.4, 11.1, 11.3,
         11.0, 10.4, 11.7, 11.1, 11.1, 12.5, 12.7, 13.2, 12.7, 13.7,
         16.2, 15.9, 17.7, 18.4, 20.3, 19.5, 21.3, 19.7, 18.8, 19.0,
         18.0, 19.5, 20.1, 20.5, 19.8, 20.5, 20.7, 21.0]
K_SCC_ERR = [5.5, 5.0, 3.5, 4.0, 2.8, 4.3, 3.5, 4.0, 4.0, 4.0,
             4.5, 4.5, 4.5, 5.0, 5.0, 4.5, 5.0, 5.0, 5.0, 5.3,
             5.3, 5.0, 5.0, 5.5, 5.5, 5.0, 5.0, 5.5, 5.0, 5.5,
             5.5, 6.0, 6.3, 7.3, 6.0, 5.0, 6.0, 5.5, 5.5, 5.5,
             6.5, 5.5, 5.5, 6.5, 6.0, 5.3, 5.8, 4.5]

# ---- L: donor 3, SCC-25, NK ----
L_NK = [1.8, 1.9, 1.2, 1.5, 1.4, 1.4, 1.8, 1.6, 2.2, 3.2,
        3.3, 3.9, 3.2, 4.2, 4.3, 4.6, 5.2, 5.2, 6.3, 5.7,
        6.0, 7.0, 7.3, 7.6, 9.3, 8.9, 10.0, 10.5, 12.2, 13.8,
        14.0, 14.0, 14.8, 14.5, 17.1, 15.2, 14.5, 14.4, 14.1, 13.8,
        15.4, 16.2, 15.6, 15.6, 15.4, 15.4, 16.3, 16.2]
L_NK_ERR = [2.0, 1.5, 1.0, 1.0, 1.0, 1.0, 1.5, 1.0, 1.0, 1.0,
            1.0, 1.5, 1.0, 1.5, 1.5, 1.5, 2.0, 2.5, 2.0, 1.5,
            2.0, 3.0, 3.5, 4.0, 3.0, 3.5, 3.0, 3.5, 4.5, 3.0,
            4.0, 4.5, 5.0, 3.5, 3.0, 3.5, 3.0, 3.5, 3.5, 3.5,
            4.0, 4.0, 4.5, 4.5, 4.5, 4.5, 4.5, 4.0]
L_HSC = [1.7, 1.9, 1.9, 1.5, 1.2, 2.3, 2.3, 2.5, 2.1, 3.6,
         3.8, 3.6, 3.1, 4.7, 4.6, 3.7, 3.6, 4.7, 4.8, 4.8,
         5.6, 6.2, 6.4, 6.7, 8.9, 8.2, 8.9, 9.6, 10.5, 10.6,
         9.6, 10.1, 10.0, 11.5, 12.8, 15.0, 15.1, 14.7, 14.0, 14.0,
         14.2, 15.0, 16.0, 16.5, 17.0, 16.5, 16.6, 16.5]
L_HSC_ERR = [1.0, 1.0, 1.0, 1.0, 1.0, 1.0, 1.0, 1.0, 1.0, 1.0,
             1.0, 1.0, 1.0, 1.0, 1.0, 1.0, 1.0, 1.0, 1.5, 1.0,
             1.0, 1.5, 1.5, 1.5, 3.0, 2.0, 2.0, 2.0, 2.0, 2.0,
             2.0, 2.0, 2.0, 2.0, 2.0, 4.0, 4.0, 4.0, 4.5, 4.5,
             4.5, 6.0, 6.5, 6.5, 6.0, 5.5, 5.0, 3.5]
L_SCC = [1.5, 1.2, 1.5, 2.0, 2.0, 1.8, 1.5, 2.1, 2.1, 2.5,
         2.8, 3.1, 3.0, 3.4, 4.1, 4.7, 5.2, 4.5, 4.3, 4.1,
         4.0, 5.0, 5.7, 7.5, 8.0, 8.6, 7.6, 7.6, 8.0, 9.0,
         9.6, 11.0, 12.9, 15.3, 16.8, 17.3, 17.5, 16.8, 18.5, 20.4,
         21.8, 31.0, 33.5, 34.5, 37.8, 38.1, 40.3, 40.6]
L_SCC_ERR = [1.0, 1.0, 1.0, 1.0, 1.0, 1.0, 1.0, 1.0, 1.0, 1.0,
             1.0, 1.0, 1.0, 1.0, 1.0, 1.0, 1.5, 1.5, 1.5, 1.5,
             1.5, 1.5, 1.5, 1.5, 3.0, 3.5, 3.5, 3.5, 3.5, 3.5,
             3.0, 3.0, 3.0, 3.0, 1.5, 1.5, 1.5, 2.5, 2.0, 2.0,
             2.0, 1.5, 1.5, 3.0, 2.0, 3.5, 4.5, 6.0]

YLAB = 'Apoptotic cells count (1/mm$^2$)'

# marker, marker colour, light colour for lines / error bars
STYLE = [('s', '#111111', '#8c8c8c'),
         ('o', '#e8361e', '#f3a07e'),
         ('^', '#3b1f8c', '#9588d2'),
         ('v', '#a1308e', '#d68fcc')]

W, H = 1272, 1249
fig = plt.figure(figsize=(W / 100, H / 100), dpi=100)


def panel(box, xlim, ylim, ymaj, ymin, t, ys, es, ylab):
    x0, x1, yt, yb = box
    ax = fig.add_axes([x0 / W, 1 - yb / H, (x1 - x0) / W, (yb - yt) / H])
    for (m, c, lc), y, e in zip(STYLE, ys, es):
        ax.errorbar(t, y, yerr=e, color=lc, lw=0.9, marker=m, ms=4.8,
                    mfc=c, mec=c, ecolor=lc, elinewidth=0.8,
                    capsize=2, capthick=0.8)
    ax.set_xlim(*xlim)
    ax.set_ylim(*ylim)
    ax.xaxis.set_major_locator(MultipleLocator(10))
    ax.xaxis.set_minor_locator(MultipleLocator(5))
    ax.yaxis.set_major_locator(MultipleLocator(ymaj))
    ax.yaxis.set_minor_locator(MultipleLocator(ymin))
    for s in ['top', 'right']:
        ax.spines[s].set_visible(False)
    for s in ['left', 'bottom']:
        ax.spines[s].set_linewidth(0.9)
        ax.spines[s].set_color('#333333')
    ax.tick_params(direction='out', length=3.5, width=0.8, labelsize=8.2,
                   pad=1.5, colors='#333333', labelcolor='#222222')
    ax.tick_params(which='minor', direction='out', length=2, width=0.6)
    ax.set_xlabel('Time lapse (hours)', fontsize=9.6, labelpad=6)
    ax.xaxis.label.set_x(0.5 + 21 / (x1 - x0))
    ax.set_ylabel(ylab, fontsize=9, labelpad=2)
    return ax


PANELS = [
    ((110, 434, 66.8, 300.6), (0, 95), (-1.1, 32.6), 2, 1, T_CD8,
     [CTRL_HSC3_CD8, A_CD8, A_HSC, A_SCC],
     [CTRL_HSC3_CD8_ERR, A_CD8_ERR, A_HSC_ERR, A_SCC_ERR],
     'apoptotic cells count (1/mm$^2$)'),
    ((481, 804, 67, 300), (0, 95), (-1.0, 22.4), 2, 1, T_CD8,
     [CTRL_HSC3_CD8, B_CD8, B_HSC, B_SCC],
     [CTRL_HSC3_CD8_ERR, B_CD8_ERR, B_HSC_ERR, B_SCC_ERR], YLAB),
    ((855, 1175, 70, 300.7), (0, 102), (0, 34.6), 2, 1, T_CD8,
     [CTRL_HSC3_CD8, C_CD8, C_HSC, C_SCC],
     [CTRL_HSC3_CD8_ERR, C_CD8_ERR, C_HSC_ERR, C_SCC_ERR], YLAB),
    ((110, 432, 342.2, 575), (0, 95), (0, 52.5), 5, 2.5, T_CD8,
     [CTRL_SCC25_CD8, D_CD8, D_HSC, D_SCC],
     [CTRL_SCC25_CD8_ERR, D_CD8_ERR, D_HSC_ERR, D_SCC_ERR], YLAB),
    ((481, 804, 342, 575.7), (0, 95), (0, 23), 2, 1, T_CD8,
     [CTRL_SCC25_CD8, E_CD8, E_HSC, E_SCC],
     [CTRL_SCC25_CD8_ERR, E_CD8_ERR, E_HSC_ERR, E_SCC_ERR], YLAB),
    ((855, 1176, 342.2, 575), (0, 95), (0, 75), 10, 5, T_CD8,
     [CTRL_SCC25_CD8, F_CD8, F_HSC, F_SCC],
     [CTRL_SCC25_CD8_ERR, F_CD8_ERR, F_HSC_ERR, F_SCC_ERR], YLAB),
    ((110, 425, 652.8, 886), (0, 100.5), (0, 55), 10, 5, T_NK_HSC,
     [CTRL_HSC3_NK, G_NK, G_HSC, G_SCC],
     [CTRL_HSC3_NK_ERR, G_NK_ERR, G_HSC_ERR, G_SCC_ERR], YLAB),
    ((481, 796.6, 654.4, 886.7), (0, 100.5), (0, 40.5), 5, 2.5, T_NK_HSC,
     [CTRL_HSC3_NK, H_NK, H_HSC, H_SCC],
     [CTRL_HSC3_NK_ERR, H_NK_ERR, H_HSC_ERR, H_SCC_ERR], YLAB),
    ((855, 1170, 656, 886.7), (0, 100.5), (0, 90.5), 10, 5, T_NK_HSC,
     [CTRL_HSC3_NK, I_NK, I_HSC, I_SCC],
     [CTRL_HSC3_NK_ERR, I_NK_ERR, I_HSC_ERR, I_SCC_ERR], YLAB),
    ((110.7, 425, 924.7, 1158), (0, 100.5), (0, 27), 2, 1, T_NK_SCC,
     [CTRL_SCC25_NK, J_NK, J_HSC, J_SCC],
     [CTRL_SCC25_NK_ERR, J_NK_ERR, J_HSC_ERR, J_SCC_ERR], YLAB),
    ((481, 796.6, 928, 1158), (0, 100.5), (0, 30.2), 2, 1, T_NK_SCC,
     [CTRL_SCC25_NK, K_NK, K_HSC, K_SCC],
     [CTRL_SCC25_NK_ERR, K_NK_ERR, K_HSC_ERR, K_SCC_ERR],
     'Apoptotic cell count (1/mm$^2$)'),
    ((855, 1170, 925.6, 1158), (0, 100.5), (0, 55), 10, 5, T_NK_SCC,
     [CTRL_SCC25_NK, L_NK, L_HSC, L_SCC],
     [CTRL_SCC25_NK_ERR, L_NK_ERR, L_HSC_ERR, L_SCC_ERR], YLAB),
]

for p in PANELS:
    panel(*p)

# overlay in pixel coordinates for letters, headers, frames, legends
ov = fig.add_axes([0, 0, 1, 1])
ov.set_xlim(0, W)
ov.set_ylim(H, 0)
ov.axis('off')

LETTERS = ['A', 'B', 'C', 'D', 'E', 'F', 'G', 'H', 'I', 'J', 'K', 'L']
for i, let in enumerate(LETTERS):
    col, row = i % 3, i // 3
    lx = [64, 440, 815][col]
    ly = [307, 582, 893, 1166][row]
    ov.text(lx, ly, let, fontsize=22.5, va='baseline', ha='left')

for x, name in zip([251, 622, 998], ['Donor 1', 'Donor 2', 'Donor 3']):
    ov.text(x, 27, name, fontsize=27, ha='center', va='center')

for y, name in zip([201, 470, 787, 1056], ['HSC-3', 'SCC-25', 'HSC-3', 'SCC-25']):
    ov.text(42, y, name, fontsize=29, rotation=90, ha='center', va='center')

ov.text(1237, 340, 'CD8+ T cell', fontsize=54, rotation=-90, ha='center', va='center')
ov.text(1237, 930, 'NK cell', fontsize=54, rotation=-90, ha='center', va='center')

for (bx0, by0, bx1, by1) in [(12, 48, 1190, 617), (12, 650, 1190, 1218)]:
    ov.add_patch(Rectangle((bx0, by0), bx1 - bx0, by1 - by0, fill=False,
                           edgecolor='#e3101b', lw=3))


def legend_item(x0, x1, y, style, label):
    m, c, lc = style
    ov.plot([x0, x1], [y, y], color=c, lw=1.1)
    ov.plot([(x0 + x1) / 2], [y], marker=m, ms=11, color=c)
    ov.text(x1 + 2, y + 1, label, fontsize=17.5, ha='left', va='center')


TOP_LEG = ['Control', 'CD8$^{+}$ T cells', 'CD8$^{+}$ T cells+HSC-3 EVs.',
           'CD8$^{+}$ T cells+SCC-25 EVs.']
BOT_LEG = ['Control', 'NK', 'NK + HSC-3 EVs.', 'NK + SCC-25 EVs.']
for (x0, x1), st, lab in zip([(15, 95), (205, 285), (440, 520), (825, 905)], STYLE, TOP_LEG):
    legend_item(x0, x1, 635, st, lab)
for (x0, x1), st, lab in zip([(115, 195), (330, 410), (485, 565), (825, 905)], STYLE, BOT_LEG):
    legend_item(x0, x1, 1237, st, lab)

fig.savefig('out.png', dpi=100)
